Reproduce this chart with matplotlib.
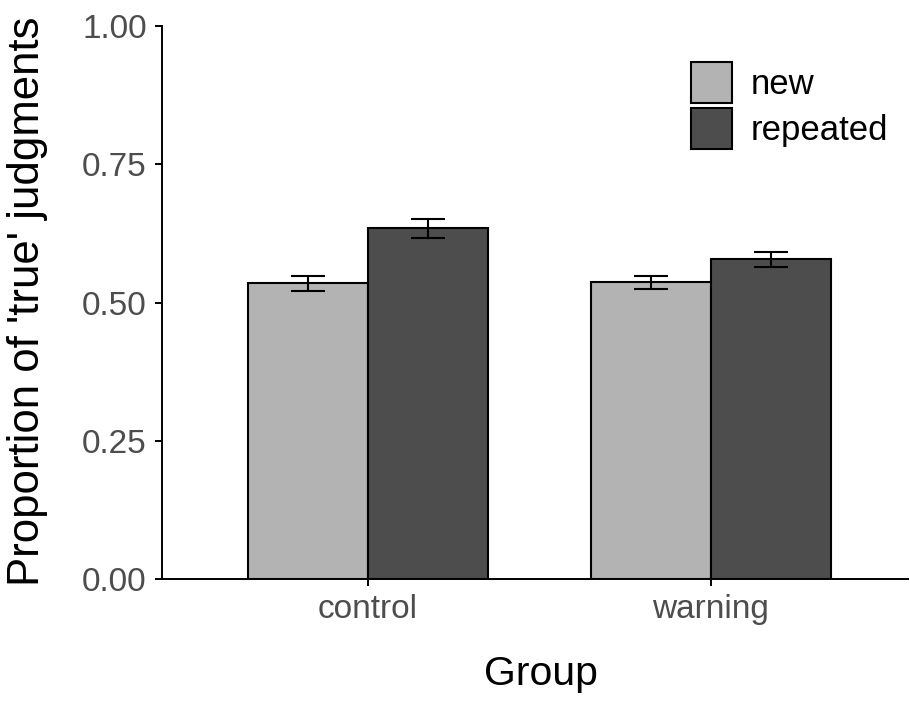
"""Bar chart: proportion of 'true' judgments by group and item type."""

import matplotlib

matplotlib.use("Agg")
import matplotlib.pyplot as plt  # noqa: E402
import numpy as np  # noqa: E402
from matplotlib.patches import Patch  # noqa: E402

groups = ["control", "warning"]
conditions = ["new", "repeated"]
means_new = [0.5345, 0.5365]
means_repeated = [0.634, 0.578]
se_new = [0.0133, 0.0123]
se_repeated = [0.0166, 0.014]
yticks = [0.00, 0.25, 0.50, 0.75, 1.00]

colors = {"new": "#B3B3B3", "repeated": "#4D4D4D"}

plt.rcParams["font.family"] = ["Liberation Sans", "DejaVu Sans"]

W, H = 910, 701
fig = plt.figure(figsize=(W / 100, H / 100), dpi=100)
left, right, top, bottom = 162, 908, 26, 579
ax = fig.add_axes([left / W, 1 - bottom / H, (right - left) / W, (bottom - top) / H])

x = np.arange(1, len(groups) + 1)
width = 0.35
for off, cond, means, ses in [
    (-width / 2, "new", means_new, se_new),
    (width / 2, "repeated", means_repeated, se_repeated),
]:
    ax.bar(x + off, means, width=width, color=colors[cond], edgecolor="black",
           linewidth=1.5, zorder=2)
    ax.errorbar(x + off, means, yerr=ses, fmt="none", ecolor="black",
                elinewidth=1.5, capsize=12.5, capthick=1.5, zorder=3)

ax.set_xlim(0.4, 2.575)
ax.set_ylim(0, 1)
ax.set_xticks(x)
ax.set_xticklabels(groups)
ax.set_yticks(yticks)
ax.set_yticklabels([f"{t:.2f}" for t in yticks])
ax.tick_params(axis="both", labelsize=24, labelcolor="#4D4D4D", color="black",
               length=5, width=1.4)
ax.tick_params(axis="y", pad=6)
ax.tick_params(axis="x", pad=6)

for s in ["top", "right"]:
    ax.spines[s].set_visible(False)
for s in ["left", "bottom"]:
    ax.spines[s].set_linewidth(1.4)

ax.set_xlabel("Group", fontsize=29.5)
ax.xaxis.set_label_coords((541 - left) / (right - left), (bottom - 685) / (bottom - top))
ax.xaxis.label.set_va("baseline")
ax.set_ylabel("Proportion of 'true' judgments", fontsize=31.5)
ax.yaxis.set_label_coords((28 - left) / (right - left), (bottom - 301) / (bottom - top))
ax.yaxis.label.set_va("center")

handles = [Patch(facecolor=colors[c], edgecolor="black", linewidth=1.5) for c in conditions]
ax.legend(handles, conditions, loc="upper left", bbox_to_anchor=(691 / W, 1 - 62 / H),
          bbox_transform=fig.transFigure, frameon=False, fontsize=25,
          handlelength=1.18, handleheight=1.42, labelspacing=0.16,
          handletextpad=0.55, borderpad=0, borderaxespad=0)

fig.savefig("out.png", dpi=100)
